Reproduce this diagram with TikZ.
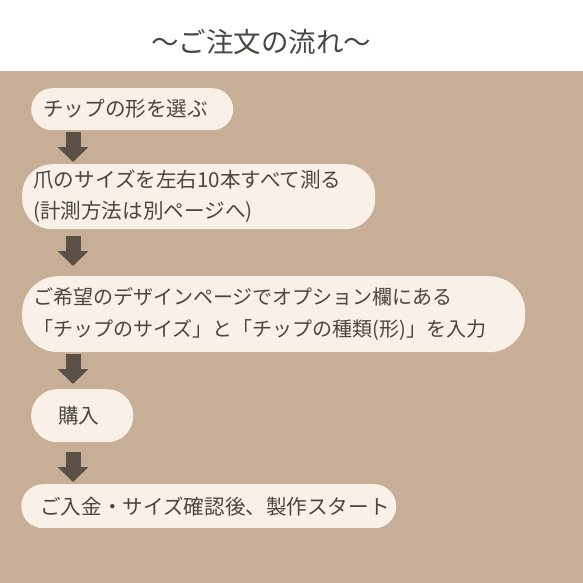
\documentclass[tikz,border=0pt]{standalone}
\usepackage{fontspec}
\setmainfont{Noto Sans CJK JP}
\usetikzlibrary{arrows.meta}
\definecolor{tanbg}{RGB}{199,174,151}
\definecolor{cream}{RGB}{249,240,231}
\definecolor{arrowcol}{RGB}{90,80,70}
\definecolor{txtcol}{RGB}{75,70,66}
\begin{document}
\begin{tikzpicture}[x=1pt,y=-1pt,
  stage/.style={fill=cream,text=txtcol,anchor=north west,align=left,
    inner ysep=0pt,font=\fontsize{20.6}{31}\selectfont},
  flow/.style={draw=arrowcol,line width=15pt,-{Triangle[width=30pt,length=15pt]}}]

  \useasboundingbox (0,0) rectangle (583,583);
  \fill[white] (0,0) rectangle (583,71);
  \fill[tanbg] (0,71) rectangle (583,583);

  \node[text=txtcol,font=\fontsize{27.5}{28}\selectfont] (title) at (261,42) {〜ご注文の流れ〜};

  \node[stage,rounded corners=21pt,minimum height=42pt,inner xsep=12pt,text width=178pt] (b1) at (31,88) {チップの形を選ぶ};
  \node[stage,rounded corners=30pt,minimum height=65pt,inner xsep=11pt,text width=331pt] (b2) at (22,164) {爪のサイズを左右10本すべて測る\\(計測方法は別ページへ)};
  \node[stage,rounded corners=36pt,minimum height=76pt,inner xsep=11pt,text width=481pt,
    font=\fontsize{20}{32}\selectfont] (b3) at (22,276) {ご希望のデザインページでオプション欄にある\\「チップのサイズ」と「チップの種類(形)」を入力};
  \node[stage,rounded corners=26pt,minimum height=53pt,inner xsep=27pt,text width=48pt] (b4) at (31,389) {購入};
  \node[stage,rounded corners=22pt,minimum height=44pt,inner xsep=19pt,text width=337pt] (b5) at (21,484) {ご入金・サイズ確認後、製作スタート};

  \coordinate (ax) at (73,0);
  \draw[flow,shorten <=2pt,shorten >=2pt] (b1.south -| ax) -- (b2.north -| ax);
  \draw[flow,shorten <=7pt,shorten >=10pt] (b2.south -| ax) -- (b3.north -| ax);
  \draw[flow,shorten <=2pt,shorten >=5pt] (b3.south -| ax) -- (b4.north -| ax);
  \draw[flow,shorten <=10pt,shorten >=2pt] (b4.south -| ax) -- (b5.north -| ax);
\end{tikzpicture}
\end{document}
